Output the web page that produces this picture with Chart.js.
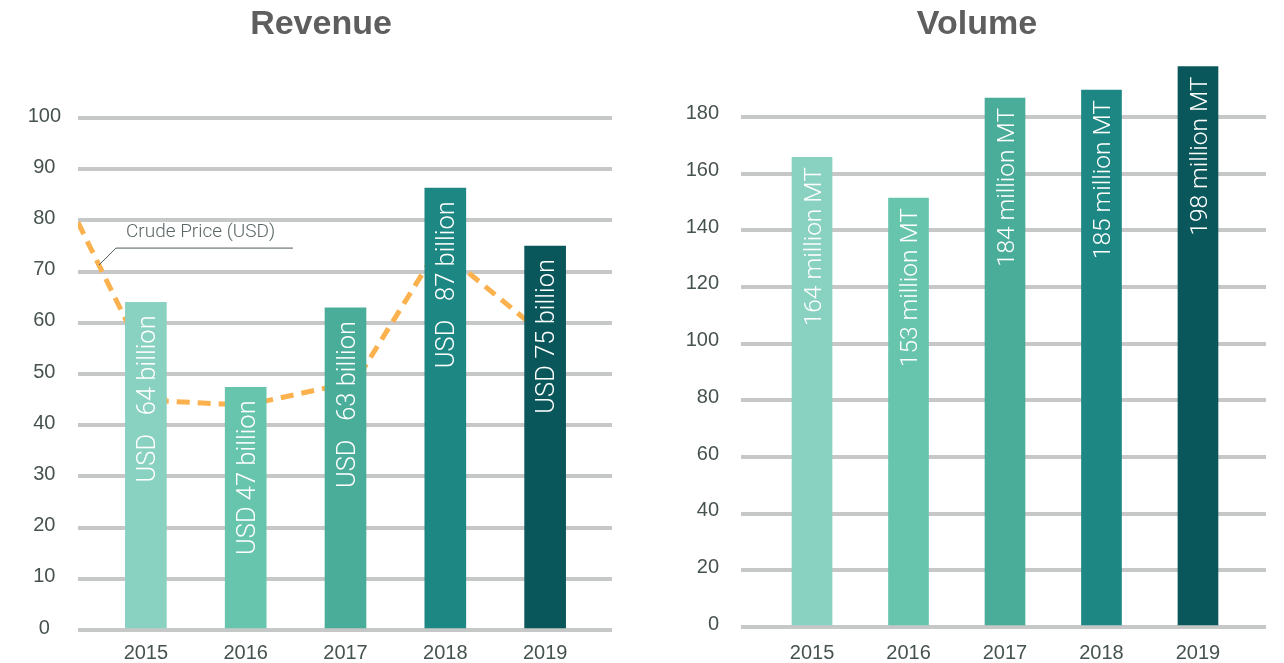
<!DOCTYPE html>
<html>
<head>
<meta charset="utf-8">
<script src="https://cdn.jsdelivr.net/npm/chart.js@4.4.1/dist/chart.umd.min.js"></script>
<style>
  html, body { margin: 0; padding: 0; background: #fff; }
  #wrap { position: relative; width: 1284px; height: 663px; overflow: hidden; }
  .box { position: absolute; top: 0; width: 642px; height: 663px; }
  .title { position: absolute; top: 2px; width: 300px; text-align: center;
           font: bold 34px "Liberation Sans", Arial, sans-serif; line-height: 40px; color: #5e5e5e; }
</style>
</head>
<body>
<div id="wrap">
  <div class="box" style="left:0">
    <div class="title" style="left:171px">Revenue</div>
    <canvas id="revenueChart" width="642" height="663"></canvas>
  </div>
  <div class="box" style="left:642px">
    <div class="title" style="left:185px">Volume</div>
    <canvas id="volumeChart" width="642" height="663"></canvas>
  </div>
</div>
<script>
// Données
const years = [2015, 2016, 2017, 2018, 2019];
const revenue = [64, 47.4, 62.9, 86.3, 75];
const revenueLabels = ['USD   64 billion', 'USD 47 billion', 'USD   63 billion', 'USD   87 billion', 'USD 75 billion'];
const volume = [165.8, 151.4, 186.7, 189.5, 197.8];
const volumeLabels = ['164 million MT', '153 million MT', '184 million MT', '185 million MT', '198 million MT'];
const crudeX = [2014.32, 2015.2, 2016.0, 2017.1, 2017.93, 2019.0];
const crudePrice = [79.6, 44.7, 43.9, 48.5, 74.6, 57.5];
const revenueTicks = [0, 10, 20, 30, 40, 50, 60, 70, 80, 90, 100];
const volumeTicks = [0, 20, 40, 60, 80, 100, 120, 140, 160, 180];
const barColors = ['#89d1c1', '#67c5ae', '#49ad9a', '#1d8784', '#09575b'];

const tickColor = '#46524f';
const gridColor = '#c6c8c8';
const lightFont = 'Roboto';

// Texte blanc vertical dans chaque barre
const barLabels = {
    id: 'barLabels',
    afterDatasetsDraw(chart, args, opts) {
        const meta = chart.getDatasetMeta(0);
        const ctx = chart.ctx;
        ctx.save();
        ctx.fillStyle = '#ffffff';
        ctx.font = '300 ' + opts.size + 'px ' + lightFont;
        ctx.textAlign = 'right';
        ctx.textBaseline = 'alphabetic';
        meta.data.forEach((bar, i) => {
            ctx.save();
            ctx.translate(bar.x, bar.y + opts.pad);
            ctx.rotate(-Math.PI / 2);
            ctx.fillText(opts.labels[i], 0, opts.size * 0.36);
            ctx.restore();
        });
        ctx.restore();
    }
};

// Étiquette "Crude Price (USD)" avec son trait
const crudeNote = {
    id: 'crudeNote',
    afterDatasetsDraw(chart) {
        const { ctx, scales: { x, y } } = chart;
        const at = 2014.53;
        const t = (at - crudeX[0]) / (crudeX[1] - crudeX[0]);
        const v = crudePrice[0] + (crudePrice[1] - crudePrice[0]) * t;
        const ax = x.getPixelForValue(at), ay = y.getPixelForValue(v);
        const ex = ax + 17, ey = ay - 17;
        ctx.save();
        ctx.strokeStyle = '#4d5b5b';
        ctx.lineWidth = 1;
        ctx.beginPath();
        ctx.moveTo(ax, ay);
        ctx.lineTo(ex, ey);
        ctx.lineTo(ex + 177, ey);
        ctx.stroke();
        ctx.fillStyle = '#5b6767';
        ctx.font = '300 19px ' + lightFont;
        ctx.textAlign = 'left';
        ctx.textBaseline = 'middle';
        ctx.fillText('Crude Price (USD)', ex + 10, ey - 16);
        ctx.restore();
    }
};

function yearAxis(min, max, pad) {
    return {
        type: 'linear',
        offset: false,
        min: min,
        max: max,
        afterBuildTicks: s => { s.ticks = years.map(v => ({ value: v })); },
        grid: { display: false, drawTicks: false, offset: false },
        border: { display: false },
        ticks: {
            callback: v => String(v),
            color: tickColor,
            font: { family: 'Liberation Sans', size: 20 },
            padding: pad,
            maxRotation: 0
        }
    };
}

const revenueChart = new Chart(document.getElementById('revenueChart'), {
    type: 'bar',
    data: {
        datasets: [{
            label: 'Revenue',
            data: years.map((y, i) => ({ x: y, y: revenue[i] })),
            backgroundColor: barColors,
            barThickness: 41,
            order: 1
        }, {
            type: 'line',
            label: 'Crude Price (USD)',
            data: crudeX.map((x, i) => ({ x: x, y: crudePrice[i] })),
            borderColor: '#fbb14d',
            borderWidth: 5,
            borderDash: [13, 8],
            pointRadius: 0,
            tension: 0,
            fill: false,
            order: 2
        }]
    },
    options: {
        responsive: false,
        animation: false,
        events: [],
        layout: { padding: { top: 118, right: 30, bottom: 0, left: 0 } },
        plugins: {
            legend: { display: false },
            tooltip: { enabled: false },
            barLabels: { labels: revenueLabels, size: 25.5, pad: 13 }
        },
        scales: {
            x: Object.assign(yearAxis(2014.32, 2019.67, 11), {
                afterFit: s => { s.height = 33; } }),
            y: {
                min: 0,
                max: 100,
                afterBuildTicks: s => { s.ticks = revenueTicks.map(v => ({ value: v })); },
                afterFit: s => { s.width = 78; },
                grid: { color: gridColor, lineWidth: 4, drawTicks: false },
                border: { display: false },
                ticks: {
                    color: tickColor,
                    font: { family: 'Liberation Sans', size: 20 },
                    crossAlign: 'center',
                    padding: 17,
                    labelOffset: -2
                }
            }
        }
    },
    plugins: [barLabels, crudeNote]
});

const volumeChart = new Chart(document.getElementById('volumeChart'), {
    type: 'bar',
    data: {
        datasets: [{
            label: 'Volume',
            data: years.map((y, i) => ({ x: y, y: volume[i] })),
            backgroundColor: barColors,
            barThickness: 40
        }]
    },
    options: {
        responsive: false,
        animation: false,
        events: [],
        layout: { padding: { top: 60.3, right: 18, bottom: 0, left: 0 } },
        plugins: {
            legend: { display: false },
            tooltip: { enabled: false },
            barLabels: { labels: volumeLabels, size: 24.5, pad: 10 }
        },
        scales: {
            x: Object.assign(yearAxis(2014.264, 2019.705, 14), {
                afterFit: s => { s.height = 36; } }),
            y: {
                min: 0,
                max: 200,
                afterBuildTicks: s => { s.ticks = volumeTicks.map(v => ({ value: v })); },
                afterFit: s => { s.width = 99; },
                grid: { color: gridColor, lineWidth: 4, drawTicks: false },
                border: { display: false },
                ticks: {
                    color: tickColor,
                    font: { family: 'Liberation Sans', size: 20 },
                    padding: 22,
                    labelOffset: -3
                }
            }
        }
    },
    plugins: [barLabels]
});
</script>
</body>
</html>
